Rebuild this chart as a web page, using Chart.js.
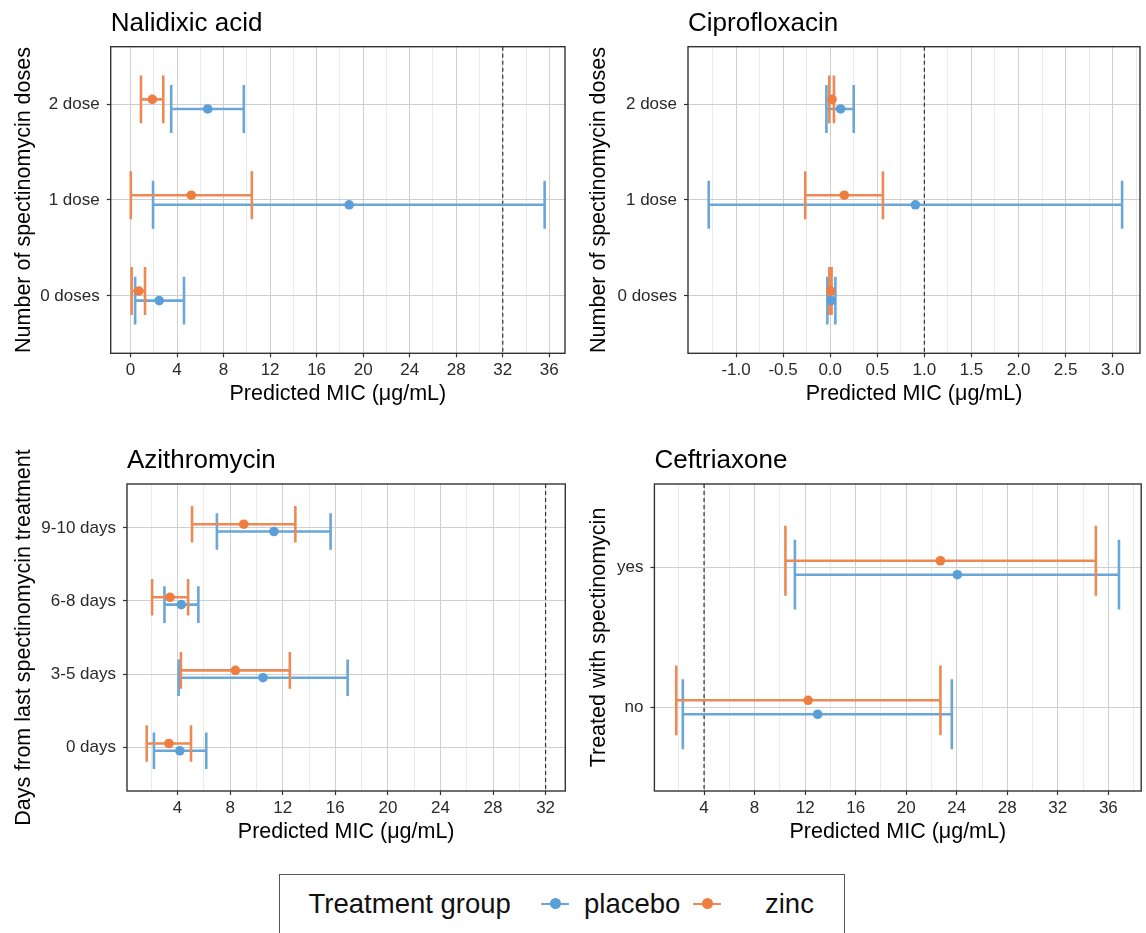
<!DOCTYPE html>
<html><head><meta charset="utf-8">
<script src="https://cdn.jsdelivr.net/npm/chart.js@4.4.1/dist/chart.umd.min.js"></script>
<style>
html,body{margin:0;padding:0;background:#fff;}
body{width:1146px;height:933px;position:relative;overflow:hidden;font-family:'Liberation Sans',Arial,Helvetica,sans-serif;}
canvas{position:absolute;left:0;top:0;}
#legend{position:absolute;left:278.6px;top:874px;width:566px;height:90px;border:1.5px solid #555;box-sizing:border-box;background:#fff;}
.lt{position:absolute;font-size:27.5px;line-height:32px;top:888px;white-space:nowrap;color:#111;}
.key{position:absolute;top:902.6px;width:28px;height:2.6px;}
.dot{position:absolute;top:-4.2px;left:9px;width:11px;height:11px;border-radius:50%;}
</style></head><body>
<canvas id="c1" width="1146" height="933"></canvas>
<canvas id="c2" width="1146" height="933"></canvas>
<canvas id="c3" width="1146" height="933"></canvas>
<canvas id="c4" width="1146" height="933"></canvas>
<div id="legend"></div>
<span class="lt" style="left:308.6px">Treatment group</span>
<div class="key" style="left:541px;background:#6aa6d8"><div class="dot" style="background:#5b9fd9"></div></div>
<span class="lt" style="left:584px">placebo</span>
<div class="key" style="left:693px;background:#ec8a55"><div class="dot" style="background:#ef7d40"></div></div>
<span class="lt" style="left:765px">zinc</span>
<script>
// ---------------- DATA ----------------
const doseCats = ['0 doses', '1 dose', '2 dose'];
const dayCats = ['0 days', '3-5 days', '6-8 days', '9-10 days'];
const treatCats = ['no', 'yes'];

const nalPlaceboMid = [2.47, 18.8, 6.64];
const nalPlaceboLo  = [0.4, 1.94, 3.5];
const nalPlaceboHi  = [4.6, 35.6, 9.74];
const nalZincMid = [0.72, 5.23, 1.88];
const nalZincLo  = [0.1, 0.03, 0.9];
const nalZincHi  = [1.25, 10.43, 2.82];
const nalBreakpoint = 32;
const nalTicks = [0, 4, 8, 12, 16, 20, 24, 28, 32, 36];
const nalTickLabels = ['0', '4', '8', '12', '16', '20', '24', '28', '32', '36'];

const cipPlaceboMid = [0.01, 0.905, 0.11];
const cipPlaceboLo  = [-0.03, -1.29, -0.04];
const cipPlaceboHi  = [0.055, 3.10, 0.25];
const cipZincMid = [0.005, 0.15, 0.02];
const cipZincLo  = [-0.01, -0.265, -0.01];
const cipZincHi  = [0.015, 0.56, 0.04];
const cipBreakpoint = 1;
const cipTicks = [-1.0, -0.5, 0.0, 0.5, 1.0, 1.5, 2.0, 2.5, 3.0];
const cipTickLabels = ['-1.0', '-0.5', '0.0', '0.5', '1.0', '1.5', '2.0', '2.5', '3.0'];

const aziPlaceboMid = [4.17, 10.5, 4.28, 11.33];
const aziPlaceboLo  = [2.2, 4.08, 3.0, 6.99];
const aziPlaceboHi  = [6.18, 16.94, 5.58, 15.64];
const aziZincMid = [3.34, 8.4, 3.42, 9.03];
const aziZincLo  = [1.65, 4.25, 2.06, 5.1];
const aziZincHi  = [5.02, 12.54, 4.8, 12.96];
const aziBreakpoint = 32;
const aziTicks = [4, 8, 12, 16, 20, 24, 28, 32];
const aziTickLabels = ['4', '8', '12', '16', '20', '24', '28', '32'];

const cefPlaceboMid = [12.99, 24.05];
const cefPlaceboLo  = [2.32, 11.19];
const cefPlaceboHi  = [23.61, 36.84];
const cefZincMid = [12.24, 22.71];
const cefZincLo  = [1.8, 10.44];
const cefZincHi  = [22.71, 35.01];
const cefBreakpoint = 4;
const cefTicks = [4, 8, 12, 16, 20, 24, 28, 32, 36];
const cefTickLabels = ['4', '8', '12', '16', '20', '24', '28', '32', '36'];

// ---------------- STYLE / LAYOUT ----------------
const W = 1146, H = 933;
const BLUE = '#5b9fd9', BLUE_BAR = '#6aa6d8';
const ORANGE = '#ef7d40', ORANGE_BAR = '#ec8a55';
const DODGE = 0.05, CAP = 0.25;
Chart.defaults.font.family = "'Liberation Sans', Arial, Helvetica, sans-serif";
const TICK_SIZE = 17, AXT_SIZE = 21.5, TITLE_SIZE = 26;

function makePanel(id, p) {
  const A = p.area;
  const step = p.ticks[1] - p.ticks[0];
  const minors = [];
  for (let i = 0; i < p.ticks.length - 1; i++) minors.push((p.ticks[i] + p.ticks[i + 1]) / 2);
  if (p.ticks[0] - step / 2 > p.xmin) minors.unshift(p.ticks[0] - step / 2);
  const last = p.ticks[p.ticks.length - 1];
  if (last + step / 2 < p.xmax) minors.push(last + step / 2);
  const allTicks = [...p.ticks, ...minors].sort((a, b) => a - b);
  const majIdx = v => p.ticks.findIndex(t => Math.abs(t - v) < 1e-9);
  const isMajor = c => c && c.tick ? majIdx(c.tick.value) >= 0 : true;

  const series = [
    {mid: p.placebo.mid, lo: p.placebo.lo, hi: p.placebo.hi, off: -DODGE, color: BLUE_BAR},
    {mid: p.zinc.mid, lo: p.zinc.lo, hi: p.zinc.hi, off: DODGE, color: ORANGE_BAR}
  ];

  const plugin = {
    id: 'panelDeco' + id,
    beforeDatasetsDraw(chart) {
      const {ctx, scales: {x, y}} = chart;
      const ca = chart.chartArea;
      ctx.save();
      ctx.strokeStyle = '#333';
      ctx.lineWidth = 1.2;
      ctx.setLineDash([4, 3]);
      const rx = x.getPixelForValue(p.ref);
      ctx.beginPath(); ctx.moveTo(rx, ca.top); ctx.lineTo(rx, ca.bottom); ctx.stroke();
      ctx.setLineDash([]);
      ctx.lineWidth = 2.6;
      ctx.lineCap = 'butt';
      series.forEach(s => {
        ctx.strokeStyle = s.color;
        p.cats.forEach((c, i) => {
          const yv = i + 1 + s.off;
          const py = y.getPixelForValue(yv);
          const xl = x.getPixelForValue(s.lo[i]), xh = x.getPixelForValue(s.hi[i]);
          const yt = y.getPixelForValue(yv + CAP), yb = y.getPixelForValue(yv - CAP);
          ctx.beginPath();
          ctx.moveTo(xl, py); ctx.lineTo(xh, py);
          ctx.moveTo(xl, yt); ctx.lineTo(xl, yb);
          ctx.moveTo(xh, yt); ctx.lineTo(xh, yb);
          ctx.stroke();
        });
      });
      ctx.restore();
    },
    afterDraw(chart) {
      const {ctx} = chart;
      const ca = chart.chartArea;
      ctx.save();
      ctx.strokeStyle = '#333';
      ctx.lineWidth = 1.4;
      ctx.strokeRect(ca.left, ca.top, ca.right - ca.left, ca.bottom - ca.top);
      ctx.fillStyle = '#000';
      ctx.font = TITLE_SIZE + "px 'Liberation Sans', Arial, sans-serif";
      ctx.textAlign = 'left';
      ctx.textBaseline = 'alphabetic';
      ctx.fillText(p.title, ca.left, ca.top - 15.7);
      ctx.restore();
    }
  };

  return new Chart(document.getElementById(id), {
    type: 'scatter',
    data: {
      datasets: [
        {label: 'placebo', data: p.cats.map((c, i) => ({x: p.placebo.mid[i], y: i + 1 - DODGE})),
         backgroundColor: BLUE, borderWidth: 0, pointRadius: 4.8},
        {label: 'zinc', data: p.cats.map((c, i) => ({x: p.zinc.mid[i], y: i + 1 + DODGE})),
         backgroundColor: ORANGE, borderWidth: 0, pointRadius: 4.8}
      ]
    },
    options: {
      responsive: false, animation: false, devicePixelRatio: 1,
      layout: {padding: {left: 0, top: A.T, right: W - A.R, bottom: 0}},
      plugins: {legend: {display: false}, tooltip: {enabled: false}, title: {display: false}},
      scales: {
        x: {
          type: 'linear', min: p.xmin, max: p.xmax,
          afterBuildTicks: s => { s.ticks = allTicks.map(v => ({value: v})); },
          afterFit: s => { s.height = H - A.B; },
          ticks: {autoSkip: false, maxRotation: 0, minRotation: 0, padding: 17.4 - 4 - TICK_SIZE / 2,
                  color: '#2a2a2a', font: {size: TICK_SIZE, lineHeight: 1},
                  callback: v => { const k = majIdx(v); return k >= 0 ? p.tickLabels[k] : ''; }},
          grid: {color: c => isMajor(c) ? '#cfcfcf' : '#ebebeb', lineWidth: 1, tickLength: 4,
                 tickColor: c => isMajor(c) ? '#333' : 'rgba(0,0,0,0)', tickWidth: 1.2},
          border: {display: false},
          title: {display: true, text: 'Predicted MIC (μg/mL)', color: '#000',
                  font: {size: AXT_SIZE, lineHeight: 1},
                  padding: {top: 0, bottom: H - (A.B + 41) - AXT_SIZE / 2}}
        },
        y: {
          type: 'linear', min: 0.4, max: p.cats.length + 0.6,
          afterBuildTicks: s => { s.ticks = p.cats.map((c, i) => ({value: i + 1})); },
          afterFit: s => { s.width = A.L; },
          ticks: {autoSkip: false, padding: 7, color: '#2a2a2a', font: {size: TICK_SIZE, lineHeight: 1},
                  callback: v => p.cats[Math.round(v) - 1] || ''},
          grid: {color: '#cfcfcf', lineWidth: 1, tickLength: 4, tickColor: '#333', tickWidth: 1.2},
          border: {display: false},
          title: {display: true, text: p.yTitle, color: '#000', font: {size: AXT_SIZE, lineHeight: 1},
                  padding: {top: p.yTitleX - AXT_SIZE / 2, bottom: 0}}
        }
      }
    },
    plugins: [plugin]
  });
}

makePanel('c1', {
  title: 'Nalidixic acid', yTitle: 'Number of spectinomycin doses', cats: doseCats,
  placebo: {mid: nalPlaceboMid, lo: nalPlaceboLo, hi: nalPlaceboHi},
  zinc: {mid: nalZincMid, lo: nalZincLo, hi: nalZincHi},
  ref: nalBreakpoint, ticks: nalTicks, tickLabels: nalTickLabels,
  xmin: -1.7, xmax: 37.35, area: {L: 110.7, T: 46.7, R: 565, B: 353.3}, yTitleX: 24.5
});
makePanel('c2', {
  title: 'Ciprofloxacin', yTitle: 'Number of spectinomycin doses', cats: doseCats,
  placebo: {mid: cipPlaceboMid, lo: cipPlaceboLo, hi: cipPlaceboHi},
  zinc: {mid: cipZincMid, lo: cipZincLo, hi: cipZincHi},
  ref: cipBreakpoint, ticks: cipTicks, tickLabels: cipTickLabels,
  xmin: -1.51, xmax: 3.29, area: {L: 688, T: 46.7, R: 1140, B: 353.3}, yTitleX: 599
});
makePanel('c3', {
  title: 'Azithromycin', yTitle: 'Days from last spectinomycin treatment', cats: dayCats,
  placebo: {mid: aziPlaceboMid, lo: aziPlaceboLo, hi: aziPlaceboHi},
  zinc: {mid: aziZincMid, lo: aziZincLo, hi: aziZincHi},
  ref: aziBreakpoint, ticks: aziTicks, tickLabels: aziTickLabels,
  xmin: 0.15, xmax: 33.5, area: {L: 127, T: 484, R: 565.3, B: 791}, yTitleX: 23.6
});
makePanel('c4', {
  title: 'Ceftriaxone', yTitle: 'Treated with spectinomycin', cats: treatCats,
  placebo: {mid: cefPlaceboMid, lo: cefPlaceboLo, hi: cefPlaceboHi},
  zinc: {mid: cefZincMid, lo: cefZincLo, hi: cefZincHi},
  ref: cefBreakpoint, ticks: cefTicks, tickLabels: cefTickLabels,
  xmin: 0.07, xmax: 38.6, area: {L: 654.4, T: 484, R: 1142, B: 791}, yTitleX: 599
});
</script>
</body></html>
